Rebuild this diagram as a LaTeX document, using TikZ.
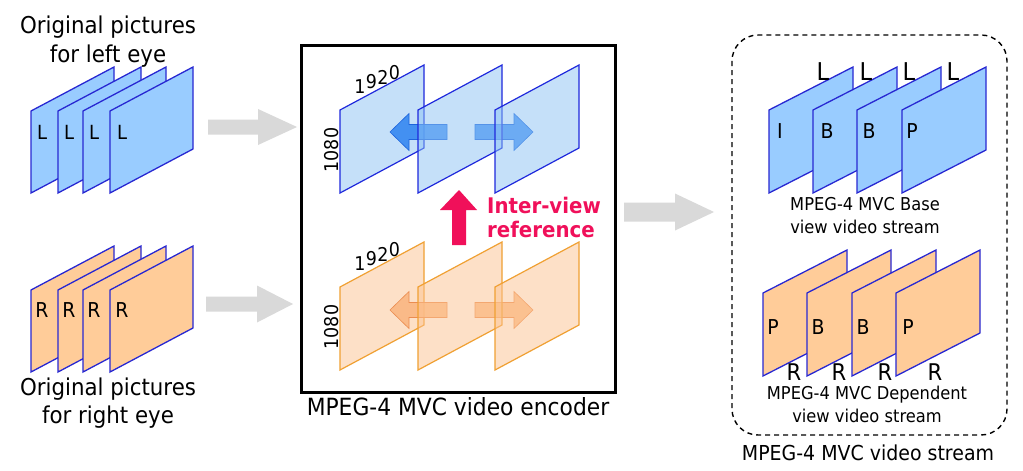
\documentclass[tikz,border=0pt]{standalone}
\usepackage{fontspec}
\setmainfont{DejaVu Sans}[FakeStretch=0.92]
\definecolor{frblue}{RGB}{153,204,255}
\definecolor{edblue}{RGB}{40,40,210}
\definecolor{frorange}{RGB}{255,204,153}
\definecolor{encblue}{RGB}{140,195,245}
\definecolor{encbedge}{RGB}{30,40,220}
\definecolor{encorange}{RGB}{252,195,145}
\definecolor{encoedge}{RGB}{240,160,50}
\definecolor{arblue}{RGB}{45,130,240}
\definecolor{arbedge}{RGB}{30,100,220}
\definecolor{arorange}{RGB}{250,180,125}
\definecolor{aroedge}{RGB}{235,140,80}
\definecolor{grayar}{RGB}{217,217,217}
\definecolor{pinkred}{RGB}{240,16,90}
\newcommand\pfr[6]{\path[#6] (#1,#2) -- ++(#3,-#4) -- ++(0,#5) -- ++(-#3,#4) -- cycle;}
\newcommand\blk[7]{\path[#7] (#1,#4-#5) -- (#2,#4-#5) -- (#2,#4-#6) -- (#3,#4) -- (#2,#4+#6) -- (#2,#4+#5) -- (#1,#4+#5) -- cycle;}
\tikzset{
  bluefr/.style={fill=frblue,draw=edblue,line width=1.3pt,line join=miter},
  orfr/.style={fill=frorange,draw=edblue,line width=1.3pt,line join=miter},
  encbfr/.style={fill=encblue,fill opacity=0.5,draw=encbedge,line width=1.2pt},
  encofr/.style={fill=encorange,fill opacity=0.5,draw=encoedge,line width=1.2pt},
  bluear/.style={fill=arblue,fill opacity=0.85,draw=arbedge,line width=0.6pt},
  orar/.style={fill=arorange,fill opacity=0.85,draw=aroedge,line width=0.6pt},
  grar/.style={fill=grayar},
  big/.style={inner sep=0pt,anchor=base,font=\fontsize{23.2}{28}\selectfont},
  lbl/.style={inner sep=0pt,anchor=base,font=\fontsize{19.5}{22}\selectfont},
  lblb/.style={inner sep=0pt,anchor=base,font=\fontsize{20.5}{24}\selectfont},
  lblc/.style={inner sep=0pt,anchor=base,font=\fontsize{24.5}{28}\selectfont},
  lbld/.style={inner sep=0pt,anchor=base,font=\fontsize{23}{26}\selectfont},
  small/.style={inner sep=0pt,anchor=base,font=\fontsize{17.7}{20}\selectfont},
  dim/.style={inner sep=0pt,font=\fontsize{19}{21}\selectfont},
}
\begin{document}
\begin{tikzpicture}[x=1pt,y=-1pt]
\useasboundingbox[fill=white] (0,0) rectangle (1023,471);

% ---- left: original pictures
\node[big] (tl1) at (108,33) {Original pictures};
\node[big] (tl2) at (108,62) {for left eye};
\pfr{31}{111}{83}{44}{82}{bluefr}
\pfr{58}{111}{83}{44}{82}{bluefr}
\pfr{83}{111}{83}{44}{82}{bluefr}
\pfr{110}{111}{83}{44}{82}{bluefr}
\node[lbl] (ll1) at (42,139) {L};
\node[lbl] (ll2) at (69,139) {L};
\node[lbl] (ll3) at (94,139) {L};
\node[lbl] (ll4) at (122,139) {L};

\pfr{31}{290}{83}{44}{82}{orfr}
\pfr{58}{290}{83}{44}{82}{orfr}
\pfr{83}{290}{83}{44}{82}{orfr}
\pfr{110}{290}{83}{44}{82}{orfr}
\node[lblb] (rl1) at (42,317) {R};
\node[lblb] (rl2) at (69,317) {R};
\node[lblb] (rl3) at (94,317) {R};
\node[lblb] (rl4) at (122,317) {R};
\node[big] (tr1) at (108,395) {Original pictures};
\node[big] (tr2) at (108,423) {for right eye};

% ---- gray arrows
\blk{208}{258}{297}{127}{7.5}{18}{grar}
\blk{206}{257}{293}{304}{7.5}{18.5}{grar}
\blk{624}{675}{714}{212}{9.5}{18.5}{grar}

% ---- encoder
\draw[line width=3pt] (301,45) rectangle (615,392);
\node[inner sep=0pt,anchor=base,font=\fontsize{23.7}{28}\selectfont] (enc) at (458,415) {MPEG-4 MVC video encoder};

% blue row
\pfr{340}{110}{84}{45}{83}{encbfr}
\blk{447}{409}{390}{132}{7.5}{18.5}{bluear}
\blk{475}{514}{533}{132}{7.5}{18.5}{bluear}
\pfr{418}{110}{84}{45}{83}{encbfr}
\pfr{495}{110}{84}{45}{83}{encbfr}
\node[dim] (b19a) at (360,87) {1};
\node[dim] (b19b) at (371.5,82) {9};
\node[dim] (b19c) at (383,77) {2};
\node[dim] (b19d) at (394.5,73) {0};
\node[dim,rotate=90] (b108) at (332,150) {1080};

% orange row
\pfr{340}{287}{84}{45}{83}{encofr}
\blk{447}{409}{390}{310}{7.5}{18.5}{orar}
\blk{475}{514}{533}{310}{7.5}{18.5}{orar}
\pfr{418}{287}{84}{45}{83}{encofr}
\pfr{495}{287}{84}{45}{83}{encofr}
\node[dim] (o19a) at (360,264) {1};
\node[dim] (o19b) at (371.5,259) {9};
\node[dim] (o19c) at (383,254) {2};
\node[dim] (o19d) at (394.5,250) {0};
\node[dim,rotate=90] (o108) at (332,327) {1080};

% inter-view arrow
\path[fill=pinkred] (452,245) -- (452,210) -- (440,210) -- (459,190) -- (477,210) -- (466,210) -- (466,245) -- cycle;
\node[inner sep=0pt,anchor=base west,text=pinkred,font=\bfseries\fontsize{21.5}{24}\selectfont] (iv1) at (487,213) {Inter-view};
\node[inner sep=0pt,anchor=base west,text=pinkred,font=\bfseries\fontsize{21.5}{24}\selectfont] (iv2) at (487,237) {reference};

% ---- output stream
\draw[line width=1.4pt,dash pattern=on 5pt off 4pt,rounded corners=26pt] (732,35) rectangle (1007,435);
\node[inner sep=0pt,anchor=base,font=\fontsize{20.6}{24}\selectfont] (vs) at (868,460) {MPEG-4 MVC video stream};

\pfr{769}{110}{84}{43}{83}{bluefr}
\pfr{813}{110}{84}{43}{83}{bluefr}
\pfr{857}{110}{84}{43}{83}{bluefr}
\pfr{902}{110}{84}{43}{83}{bluefr}
\node[lblc] (sl1) at (823,80) {L};
\node[lblc] (sl2) at (866,80) {L};
\node[lblc] (sl3) at (909,80) {L};
\node[lblc] (sl4) at (953,80) {L};
\node[lblb] (fi) at (780,138) {I};
\node[lblb] (fb1) at (827,138) {B};
\node[lblb] (fb2) at (869,138) {B};
\node[lblb] (fp1) at (912,138) {P};
\node[small] (base1) at (865,210) {MPEG-4 MVC Base};
\node[small] (base2) at (865,233) {view video stream};

\pfr{763}{293}{84}{43}{83}{orfr}
\pfr{807}{293}{84}{43}{83}{orfr}
\pfr{852}{293}{84}{43}{83}{orfr}
\pfr{896}{293}{84}{43}{83}{orfr}
\node[lblb] (gp1) at (773,334) {P};
\node[lblb] (gb1) at (818,334) {B};
\node[lblb] (gb2) at (863,334) {B};
\node[lblb] (gp2) at (908,334) {P};
\node[lbld] (sr1) at (794,380.5) {R};
\node[lbld] (sr2) at (839,380.5) {R};
\node[lbld] (sr3) at (885,380.5) {R};
\node[lbld] (sr4) at (935,380.5) {R};
\node[small] (dep1) at (867,399) {MPEG-4 MVC Dependent};
\node[small] (dep2) at (867,422.5) {view video stream};
\end{tikzpicture}
\end{document}
